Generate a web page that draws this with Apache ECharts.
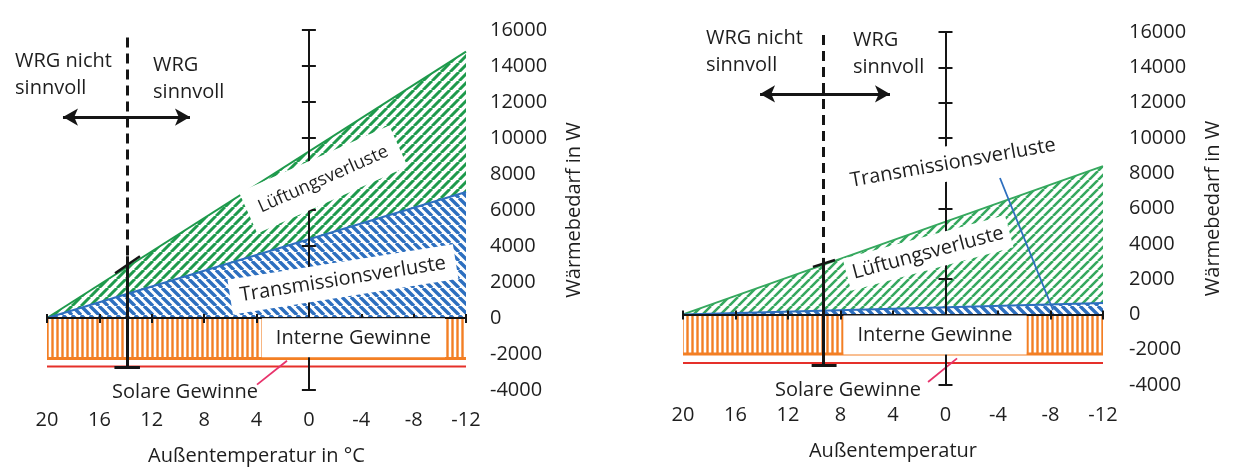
<!DOCTYPE html>
<html><head><meta charset="utf-8">
<script src="https://cdn.jsdelivr.net/npm/echarts@6/dist/echarts.min.js"></script>
<style>html,body{margin:0;background:#fff}#c{width:1235px;height:471px}</style>
</head><body><div id="c"></div>
<script>
// ---------- data ----------
const temps = [20, -12];                 // outdoor temperature end points (°C)
const transLeft   = [0, 7000];           // Transmissionsverluste (W)
const totalLeft   = [0, 14800];          // Transmission + Lüftungsverluste (W, upper edge)
const internLeft  = [-2250, -2250];      // Interne Gewinne (W)
const solarLeft   = [-2700, -2700];      // lower edge incl. Solare Gewinne (W)
const transRight  = [0, 650];
const totalRight  = [0, 8400];
const internRight = [-2250, -2250];
const solarRight  = [-2750, -2750];
const xRange = [-12, 20], xStep = 4;     // tick labels 20 … -12
const yRange = [-4000, 16000], yStep = 2000;
const xTitles = ['Außentemperatur in °C', 'Außentemperatur'];
const yTitle = 'Wärmebedarf in W';

// ---------- annotations (data coordinates) ----------
const notes = [
  { texts: [
      {t:22.44, w:13500, text:'WRG nicht\nsinnvoll', pos:'right'},
      {t:11.9,  w:13300, text:'WRG\nsinnvoll', pos:'right'},
      {t:-1.1,  w:7700, text:'Lüftungsverluste', rot:24, pad:[9,12], size:18},
      {t:-2.6,  w:2150, text:'Transmissionsverluste', rot:9, pad:[4,10]},
      {t:-3.4,  w:-1100, text:'Interne Gewinne', pad:[6,14]},
      {t:9.46,  w:-4140, text:'Solare Gewinne'}
    ],
    lines: [
      {a:[13.9,15580], b:[13.9,3430], dash:true},
      {a:[13.9,3430], b:[13.9,-2760]},
      {a:[14.85,-2760], b:[12.9,-2760]},
      {a:[14.8,2490], b:[12.9,3430], width:2.5},
      {a:[18.78,11160], b:[9.08,11160], arrow:true},
      {a:[3.96,-3700], b:[1.67,-2375], color:'#e8336b', width:1.8}
    ]},
  { texts: [
      {t:18.25, w:14900, text:'WRG nicht\nsinnvoll', pos:'right'},
      {t:7.05,  w:14750, text:'WRG\nsinnvoll', pos:'right'},
      {t:-0.57, w:8580, text:'Transmissionsverluste', rot:10, pad:[4,6]},
      {t:1.33,  w:3480, text:'Lüftungsverluste', rot:15, pad:[3,6]},
      {t:0.8,   w:-1170, text:'Interne Gewinne', pad:[6,14]},
      {t:7.43,  w:-4280, text:'Solare Gewinne'}
    ],
    lines: [
      {a:[9.33,15830], b:[9.33,3200], dash:true},
      {a:[9.33,3200], b:[9.33,-2860]},
      {a:[10.2,-2860], b:[8.3,-2860]},
      {a:[10.1,2690], b:[8.42,3080], width:2.5},
      {a:[14.13,12490], b:[4.23,12490], arrow:true},
      {a:[-4.15,7730], b:[-8.19,250], color:'#2d6fbf', width:1.8},
      {a:[1.33,-3830], b:[-0.88,-2490], color:'#e8336b', width:1.8}
    ]}
];

// ---------- styles ----------
const FONT = 'Open Sans', TXT = '#1e1e1e', INK = '#151515';
const BLUE = '#2d6fbf', GREEN = ['#1e9a4c', '#35a85e'], ORANGE = '#f37f24', RED = '#e5302a';

function hatch(color, dir, size, lw) {
  const c = document.createElement('canvas');
  c.width = size; c.height = size;
  const g = c.getContext('2d');
  g.fillStyle = '#fff'; g.fillRect(0, 0, size, size);
  g.strokeStyle = color; g.lineWidth = lw; g.beginPath();
  if (dir === '|') { g.moveTo(size / 2, 0); g.lineTo(size / 2, size); }
  else if (dir === '/') { for (let k = -1; k <= 1; k++) { g.moveTo(k * size, size); g.lineTo(k * size + size, 0); } }
  else { for (let k = -1; k <= 1; k++) { g.moveTo(k * size, 0); g.lineTo(k * size + size, size); } }
  g.stroke();
  return { image: c, repeat: 'repeat' };
}

const grids = [
  { left: 47, top: 30, width: 419, height: 362 },
  { left: 683, top: 32, width: 420, height: 353 }
];

const xAxes = [], yAxes = [], series = [];
const baseX = { type: 'value', min: xRange[0], max: xRange[1], interval: xStep, inverse: true, splitLine: { show: false } };
const baseY = { type: 'value', min: yRange[0], max: yRange[1], interval: yStep, splitLine: { show: false } };
const txt = { fontFamily: FONT, fontSize: 20, color: TXT };

const datasets = [
  { trans: transLeft, total: totalLeft, intern: internLeft, solar: solarLeft },
  { trans: transRight, total: totalRight, intern: internRight, solar: solarRight }
];

grids.forEach((gr, g) => {
  xAxes.push(
    Object.assign({}, baseX, { gridIndex: g, position: 'bottom',
      axisLine: { show: false, onZero: false }, axisTick: { show: false },
      axisLabel: Object.assign({ margin: 20 }, txt),
      name: xTitles[g], nameLocation: 'middle', nameGap: 56, nameTextStyle: txt }),
    Object.assign({}, baseX, { gridIndex: g, z: 5,
      axisLine: { show: true, onZero: true, lineStyle: { color: INK, width: 2 } },
      axisTick: { show: true, length: 4, lineStyle: { color: INK, width: 2 } },
      axisLabel: { show: false } }),
    Object.assign({}, baseX, { gridIndex: g, z: 5,
      axisLine: { show: false, onZero: true },
      axisTick: { show: true, inside: true, length: 5, lineStyle: { color: INK, width: 2 } },
      axisLabel: { show: false } })
  );
  yAxes.push(
    Object.assign({}, baseY, { gridIndex: g, position: 'right',
      axisLine: { show: false, onZero: false }, axisTick: { show: false },
      axisLabel: Object.assign({ margin: g ? 26 : 24, formatter: v => String(v) }, txt),
      name: yTitle, nameLocation: 'middle', nameRotate: 90, nameGap: g ? 100 : 98, nameTextStyle: txt }),
    Object.assign({}, baseY, { gridIndex: g, position: 'left', z: 5,
      axisLine: { show: true, onZero: true, lineStyle: { color: INK, width: 2 } },
      axisTick: { show: true, length: 7, lineStyle: { color: INK, width: 2 } },
      axisLabel: { show: false } }),
    Object.assign({}, baseY, { gridIndex: g, position: 'left', z: 5,
      axisLine: { show: false, onZero: true },
      axisTick: { show: true, inside: true, length: 7, lineStyle: { color: INK, width: 2 } },
      axisLabel: { show: false } })
  );
  const xi = g * 3, yi = g * 3, d = datasets[g];
  const pts = v => temps.map((t, i) => [t, v[i]]);
  const common = { type: 'line', xAxisIndex: xi, yAxisIndex: yi, symbol: 'none', silent: true, animation: false };
  series.push(
    Object.assign({}, common, { name: 'Lüftungsverluste', data: pts(d.total), z: 2,
      lineStyle: { color: GREEN[g], width: 2 }, areaStyle: { color: hatch(GREEN[g], '/', 9, g ? 2.6 : 3), opacity: 1 } }),
    Object.assign({}, common, { name: 'Transmissionsverluste', data: pts(d.trans), z: 3,
      lineStyle: { color: BLUE, width: 2 }, areaStyle: { color: hatch(BLUE, '\\', 9, 3.4), opacity: 1 } }),
    Object.assign({}, common, { name: 'Interne Gewinne', data: pts(d.intern), z: 2,
      lineStyle: { color: ORANGE, width: 3 }, areaStyle: { color: hatch(ORANGE, '|', 5, 2.4), opacity: 1 } }),
    Object.assign({}, common, { name: 'Solare Gewinne', data: pts(d.solar), z: 2,
      lineStyle: { color: RED, width: 2 } })
  );
  const n = notes[g];
  series.push({
    type: 'scatter', xAxisIndex: xi, yAxisIndex: yi, z: 10, clip: false, silent: true, animation: false,
    symbolSize: 0, itemStyle: { opacity: 1 },
    data: n.texts.map(l => ({ value: [l.t, l.w], label: Object.assign({}, txt, {
      show: true, formatter: l.text, position: l.pos || 'inside', distance: 0, rotate: l.rot || 0, opacity: 1,
      lineHeight: 27, backgroundColor: l.pad ? '#fff' : 'transparent', padding: l.pad || 0,
      fontSize: l.size || 20 }) })),
    markLine: {
      silent: true, animation: false, symbol: 'none', label: { show: false },
      data: n.lines.map(L => {
        const ls = { color: L.color || INK, width: L.width || 3, type: L.dash ? [10, 6] : 'solid', opacity: 1 };
        const sym = L.arrow ? 'arrow' : 'none';
        return [
          { coord: L.a, symbol: sym, symbolSize: [13, 15], lineStyle: ls },
          { coord: L.b, symbol: sym, symbolSize: [13, 15], lineStyle: ls }
        ];
      })
    }
  });
});

const chart = echarts.init(document.getElementById('c'), null, { renderer: 'canvas' });
chart.setOption({
  backgroundColor: '#fff',
  animation: false,
  grid: grids,
  xAxis: xAxes,
  yAxis: yAxes,
  series: series
});
</script></body></html>
